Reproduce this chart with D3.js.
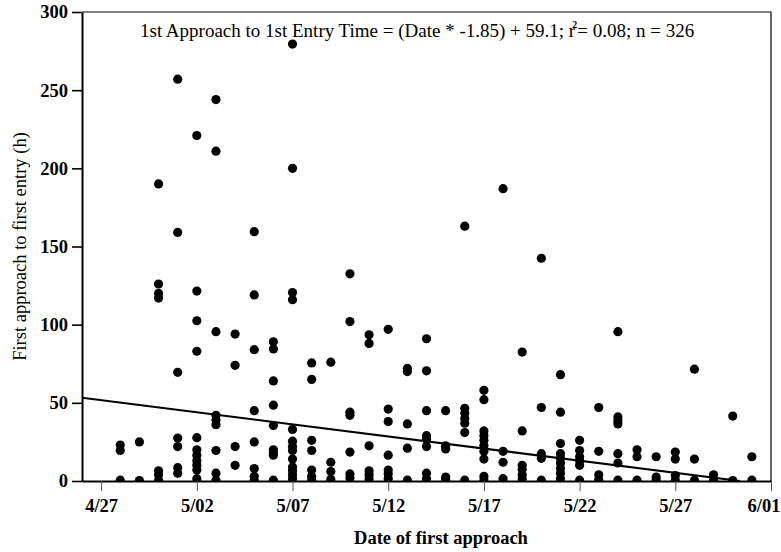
<!DOCTYPE html>
<html lang="en">
<head>
  <meta charset="UTF-8" />
  <title>First approach to first entry</title>
  <style>
    body {
      margin: 0;
      background-color: white;
    }
    svg {
      display: block;
      font-family: 'Liberation Serif', 'Times New Roman', serif;
    }
  </style>
  <script src="https://d3js.org/d3.v7.min.js"></script>
</head>
<body>
  <div id="chart"></div>

  <script>
    // days with at least one first approach (m/dd)
    const approachDates = [
      "4/28", "4/29", "4/30", "5/01", "5/02", "5/03", "5/04", "5/05", "5/06", "5/07",
      "5/08", "5/09", "5/10", "5/11", "5/12", "5/13", "5/14", "5/15", "5/16", "5/17",
      "5/18", "5/19", "5/20", "5/21", "5/22", "5/23", "5/24", "5/25", "5/26", "5/27",
      "5/28", "5/29", "5/30", "5/31"
    ];

    // hours from first approach to first entry, one list per date above
    const hoursToEntry = [
      [23, 19.5, 0.5],
      [25, 0.3],
      [190, 126, 120, 117, 6.5, 4, 0.5],
      [257, 159, 69.5, 27.5, 22, 8.5, 5],
      [221, 121.5, 102.5, 83, 27.7, 20, 16.5, 13, 10, 7, 1.5],
      [244, 211, 95.5, 42, 39, 36, 19.5, 5, 0.5],
      [94, 74, 22, 10],
      [159.5, 119, 84, 45, 25, 8, 3, 0.5],
      [89, 84.5, 64, 48.5, 35.5, 20, 18, 16.5, 0.5],
      [279.5, 200, 120.5, 116, 33, 25.5, 22, 19.5, 14, 9, 6.5, 4, 1.5],
      [75.5, 65, 26, 19.5, 7, 3, 0.5],
      [76, 12, 6, 1],
      [132.5, 102, 44, 42, 18.5, 4.5, 2],
      [93.5, 88, 22.5, 6.5, 4, 1.5],
      [97, 46, 38, 16.5, 7, 4.5, 1.5],
      [72, 70, 36.5, 21, 0.5],
      [91, 70.5, 45, 29, 26.5, 22, 5, 1.5],
      [45, 22.5, 20.5, 2.5, 1],
      [163, 46.5, 43.5, 40, 37, 31, 0.5],
      [58, 52, 32, 29, 26, 22.5, 19, 14, 3, 0.5],
      [187, 19, 12, 1.5],
      [82.5, 32, 10, 7.5, 4, 1.5],
      [142.5, 47, 17.5, 14.5, 0.5],
      [68, 44, 24, 17.5, 14.5, 11.5, 8, 5, 1.5],
      [26, 19.5, 15.5, 13, 10, 0.5],
      [47, 19, 4, 1],
      [95.5, 41, 38.5, 36.5, 17.5, 11.5, 0.5],
      [20, 15.5, 0.5],
      [15.5, 2.5, 0.5],
      [18.5, 14, 3.5, 0.5],
      [71.5, 14, 0.5],
      [4, 0.5],
      [41.5, 0.3],
      [15.5, 0.5]
    ];

    const xTickDates = ["4/27", "5/02", "5/07", "5/12", "5/17", "5/22", "5/27", "6/01"];
    const yTickValues = [0, 50, 100, 150, 200, 250, 300];
    const xDomain = ["4/26", "6/01"];
    const yDomain = [0, 300];

    // fitted line as drawn: value at the first day of the axis and slope per day
    const fitStartHours = 53.3;
    const fitSlopePerDay = -1.55;

    const titleText = "1st Approach to 1st Entry Time = (Date * -1.85) + 59.1; r";
    const titleTail = "= 0.08; n = 326";

    const width = 781;
    const height = 552;
    const margin = {top: 12, right: 10, bottom: 71, left: 82};
    const serif = "'Liberation Serif', 'Times New Roman', serif";

    const parseDay = s => {
      const [m, d] = s.split("/").map(Number);
      return new Date(2003, m - 1, d);
    };

    const points = approachDates.flatMap((d, i) =>
      hoursToEntry[i].map(h => ({date: parseDay(d), hours: h}))
    );

    const svg = d3.select("#chart")
      .append("svg")
      .attr("width", width)
      .attr("height", height);

    const x = d3.scaleTime()
      .domain(xDomain.map(parseDay))
      .range([margin.left, width - margin.right]);

    const y = d3.scaleLinear()
      .domain(yDomain)
      .range([height - margin.bottom, margin.top]);

    svg.append("defs").append("clipPath")
      .attr("id", "plotClip")
      .append("rect")
      .attr("x", margin.left)
      .attr("y", margin.top)
      .attr("width", width - margin.left - margin.right)
      .attr("height", height - margin.top - margin.bottom);

    // frame top and right
    svg.append("path")
      .attr("d", `M${margin.left},${margin.top}H${width - margin.right}V${height - margin.bottom}`)
      .attr("fill", "none")
      .attr("stroke", "black")
      .attr("stroke-width", 1.2);

    const plot = svg.append("g").attr("clip-path", "url(#plotClip)");

    plot.append("g")
      .selectAll("circle")
      .data(points)
      .enter().append("circle")
      .attr("cx", d => x(d.date))
      .attr("cy", d => y(d.hours))
      .attr("r", 4.6)
      .attr("fill", "black");

    const fitStart = parseDay(xDomain[0]);
    const fitEnd = d3.timeHour.offset(fitStart, Math.round(24 * fitStartHours / -fitSlopePerDay));
    const fitData = [
      {date: fitStart, hours: fitStartHours},
      {date: fitEnd, hours: 0}
    ];

    plot.append("path")
      .datum(fitData)
      .attr("fill", "none")
      .attr("stroke", "black")
      .attr("stroke-width", 2)
      .attr("d", d3.line().x(d => x(d.date)).y(d => y(d.hours)));

    const xAxis = svg.append("g")
      .attr("transform", `translate(0,${height - margin.bottom})`)
      .call(d3.axisBottom(x)
        .tickValues(xTickDates.map(parseDay))
        .tickFormat(d3.timeFormat("%-m/%d"))
        .tickSize(10)
        .tickPadding(8)
        .tickSizeOuter(0));
    xAxis.select(".domain").attr("stroke-width", 2.2);
    xAxis.selectAll(".tick line").attr("stroke", "#555").attr("stroke-width", 1);
    // last label sits left of its tick so it stays inside the page
    xAxis.selectAll(".tick:last-of-type text").attr("text-anchor", "end").attr("x", 9);

    const yAxis = svg.append("g")
      .attr("transform", `translate(${margin.left},0)`)
      .call(d3.axisLeft(y)
        .tickValues(yTickValues)
        .tickSize(10)
        .tickPadding(4)
        .tickSizeOuter(0));
    yAxis.select(".domain").attr("stroke-width", 2);
    yAxis.selectAll(".tick line").attr("stroke-width", 1.6);

    svg.selectAll(".tick text")
      .style("font-family", serif)
      .style("font-weight", "bold")
      .style("font-size", "18.5px")
      .attr("fill", "black");

    // equation text
    const title = svg.append("text")
      .attr("x", 140)
      .attr("y", 37)
      .attr("font-size", 19)
      .attr("fill", "black");
    title.append("tspan").text(titleText);
    title.append("tspan")
      .attr("dx", -3)
      .attr("dy", -9)
      .attr("font-size", 10)
      .attr("font-weight", "bold")
      .text("2");
    title.append("tspan")
      .attr("dy", 9)
      .text(titleTail);

    svg.append("text")
      .attr("x", 441)
      .attr("y", 544)
      .attr("text-anchor", "middle")
      .attr("font-size", 18.5)
      .attr("font-weight", "bold")
      .text("Date of first approach");

    svg.append("text")
      .attr("transform", `translate(26,${(margin.top + height - margin.bottom) / 2}) rotate(-90)`)
      .attr("text-anchor", "middle")
      .attr("font-size", 18.5)
      .text("First approach to first entry (h)");
  </script>
</body>
</html>
